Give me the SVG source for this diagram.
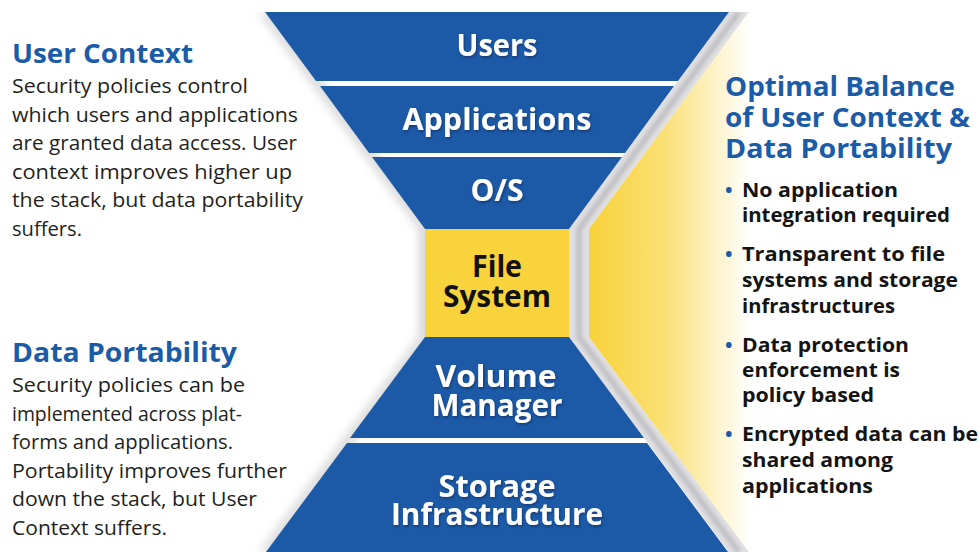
<svg xmlns="http://www.w3.org/2000/svg" width="980" height="552" viewBox="0 0 980 552">
  <defs>
    <style>
      .band { fill: #1C5AA7; }
      .fs { fill: #F9D33C; }
      .lbl { font-family: "Open Sans", "Liberation Sans", sans-serif; font-weight: 700; font-size: 29.5px; fill: #FFFFFF; text-anchor: middle; }
      .lbl-dark { font-family: "Open Sans", "Liberation Sans", sans-serif; font-weight: 700; font-size: 29.5px; fill: #111111; text-anchor: middle; }
      .head { font-family: "Open Sans", "Liberation Sans", sans-serif; font-weight: 700; font-size: 26.5px; fill: #1B5CA8; }
      .body { font-family: "Open Sans", "Liberation Sans", sans-serif; font-weight: 400; font-size: 20px; fill: #231F20; }
      .bul { font-family: "Open Sans", "Liberation Sans", sans-serif; font-weight: 700; font-size: 20px; fill: #141414; }
      .dot { font-family: "Open Sans", "Liberation Sans", sans-serif; font-weight: 700; font-size: 20px; fill: #1B5CA8; }
    </style>
    <linearGradient id="glow" gradientUnits="userSpaceOnUse" x1="589" y1="0" x2="750" y2="0">
      <stop offset="0" stop-color="#F8D23A"/>
      <stop offset="0.45" stop-color="#FADF72"/>
      <stop offset="1" stop-color="#FFFFFF"/>
    </linearGradient>
    <filter id="blur2" x="-20%" y="-5%" width="140%" height="110%">
      <feGaussianBlur stdDeviation="2"/>
    </filter>
    <filter id="blur5" x="-50%" y="-5%" width="200%" height="110%">
      <feGaussianBlur stdDeviation="5"/>
    </filter>
    <filter id="txtShadow" x="-5%" y="-20%" width="110%" height="150%">
      <feDropShadow dx="1" dy="1.5" stdDeviation="1" flood-color="#0B2347" flood-opacity="0.55"/>
    </filter>
    <clipPath id="belowTop">
      <rect x="0" y="12" width="980" height="540"/>
    </clipPath>
  </defs>

  <rect x="0" y="0" width="980" height="552" fill="#FFFFFF"/>

  <!-- soft shading along the left flank of the stack -->
  <g clip-path="url(#belowTop)" opacity="0.35">
    <polygon points="259,12 419,229 419,337 260,552 272,552 431,337 431,229 271,12" fill="#8A8A8A" filter="url(#blur5)"/>
  </g>

  <!-- silver bevel along the right flank -->
  <g id="bevel">
    <polygon points="729,12 569,229 569,337 729,552 749,552 589,337 589,229 749,12" fill="#E0E0E2"/>
    <polyline points="739,12 579,229 579,337 739,552" fill="none" stroke="#BBBBC0" stroke-width="5" filter="url(#blur2)" clip-path="url(#belowTop)"/>
  </g>

  <!-- yellow balance glow -->
  <polygon id="glow-area" points="749,12 589,229 589,337 749,552 980,552 980,12" fill="url(#glow)"/>

  <!-- stack layers -->
  <g id="users">
    <polygon class="band" points="265,12 729,12 678,81 316,81"/>
    <text class="lbl" x="497" y="56" textLength="81" lengthAdjust="spacingAndGlyphs" filter="url(#txtShadow)">Users</text>
  </g>
  <g id="applications">
    <polygon class="band" points="320,86 674,86 625,153 369,153"/>
    <text class="lbl" x="497" y="130" textLength="189" lengthAdjust="spacingAndGlyphs" filter="url(#txtShadow)">Applications</text>
  </g>
  <g id="os">
    <polygon class="band" points="372,157 622,157 569,229 425,229"/>
    <text class="lbl" x="497" y="201" textLength="53" lengthAdjust="spacingAndGlyphs" filter="url(#txtShadow)">O/S</text>
  </g>
  <g id="file-system">
    <rect class="fs" x="425" y="229" width="144" height="108"/>
    <text class="lbl-dark"><tspan x="497" y="277" textLength="50" lengthAdjust="spacingAndGlyphs">File</tspan><tspan x="497" y="307" textLength="108" lengthAdjust="spacingAndGlyphs">System</tspan></text>
  </g>
  <g id="volume-manager">
    <polygon class="band" points="425,337 569,337 644,438 350,438"/>
    <text class="lbl" filter="url(#txtShadow)"><tspan x="496" y="387" textLength="121" lengthAdjust="spacingAndGlyphs">Volume</tspan><tspan x="497" y="416" textLength="131" lengthAdjust="spacingAndGlyphs">Manager</tspan></text>
  </g>
  <g id="storage-infrastructure">
    <polygon class="band" points="347,443 647,443 734,560 260,560"/>
    <text class="lbl" filter="url(#txtShadow)"><tspan x="497" y="497" textLength="117" lengthAdjust="spacingAndGlyphs">Storage</tspan><tspan x="497" y="525" textLength="212" lengthAdjust="spacingAndGlyphs">Infrastructure</tspan></text>
  </g>

  <!-- left notes -->
  <g id="user-context">
    <text class="head" x="12" y="63" textLength="181" lengthAdjust="spacingAndGlyphs">User Context</text>
    <text class="body" x="12" y="93" textLength="236" lengthAdjust="spacingAndGlyphs">Security policies control</text>
    <text class="body" x="12" y="121.5" textLength="286" lengthAdjust="spacingAndGlyphs">which users and applications</text>
    <text class="body" x="12" y="150" textLength="285" lengthAdjust="spacingAndGlyphs">are granted data access. User</text>
    <text class="body" x="12" y="178.5" textLength="280" lengthAdjust="spacingAndGlyphs">context improves higher up</text>
    <text class="body" x="12" y="207" textLength="291" lengthAdjust="spacingAndGlyphs">the stack, but data portability</text>
    <text class="body" x="12" y="235.5" textLength="70" lengthAdjust="spacingAndGlyphs">suffers.</text>
  </g>
  <g id="data-portability">
    <text class="head" x="12" y="362" textLength="225" lengthAdjust="spacingAndGlyphs">Data Portability</text>
    <text class="body" x="12" y="392" textLength="233" lengthAdjust="spacingAndGlyphs">Security policies can be</text>
    <text class="body" x="12" y="420.6" textLength="230" lengthAdjust="spacingAndGlyphs">implemented across plat-</text>
    <text class="body" x="12" y="449.2" textLength="221" lengthAdjust="spacingAndGlyphs">forms and applications.</text>
    <text class="body" x="12" y="477.8" textLength="275" lengthAdjust="spacingAndGlyphs">Portability improves further</text>
    <text class="body" x="12" y="506.4" textLength="245" lengthAdjust="spacingAndGlyphs">down the stack, but User</text>
    <text class="body" x="12" y="535" textLength="155" lengthAdjust="spacingAndGlyphs">Context suffers.</text>
  </g>

  <!-- right notes -->
  <g id="optimal-balance">
    <text class="head" x="725" y="96" textLength="230" lengthAdjust="spacingAndGlyphs">Optimal Balance</text>
    <text class="head" x="725" y="127" textLength="245" lengthAdjust="spacingAndGlyphs">of User Context &amp;</text>
    <text class="head" x="725" y="158" textLength="227" lengthAdjust="spacingAndGlyphs">Data Portability</text>

    <text class="dot" x="725" y="197">•</text>
    <text class="bul" x="742" y="197" textLength="156" lengthAdjust="spacingAndGlyphs">No application</text>
    <text class="bul" x="742" y="222" textLength="208" lengthAdjust="spacingAndGlyphs">integration required</text>

    <text class="dot" x="725" y="261">•</text>
    <text class="bul" x="742" y="261" textLength="203" lengthAdjust="spacingAndGlyphs">Transparent to file</text>
    <text class="bul" x="742" y="287" textLength="216" lengthAdjust="spacingAndGlyphs">systems and storage</text>
    <text class="bul" x="742" y="313" textLength="153" lengthAdjust="spacingAndGlyphs">infrastructures</text>

    <text class="dot" x="725" y="352">•</text>
    <text class="bul" x="742" y="352" textLength="167" lengthAdjust="spacingAndGlyphs">Data protection</text>
    <text class="bul" x="742" y="377" textLength="158" lengthAdjust="spacingAndGlyphs">enforcement is</text>
    <text class="bul" x="742" y="402" textLength="132" lengthAdjust="spacingAndGlyphs">policy based</text>

    <text class="dot" x="725" y="441">•</text>
    <text class="bul" x="742" y="441" textLength="236" lengthAdjust="spacingAndGlyphs">Encrypted data can be</text>
    <text class="bul" x="742" y="467" textLength="151" lengthAdjust="spacingAndGlyphs">shared among</text>
    <text class="bul" x="742" y="493" textLength="131" lengthAdjust="spacingAndGlyphs">applications</text>
  </g>
</svg>
